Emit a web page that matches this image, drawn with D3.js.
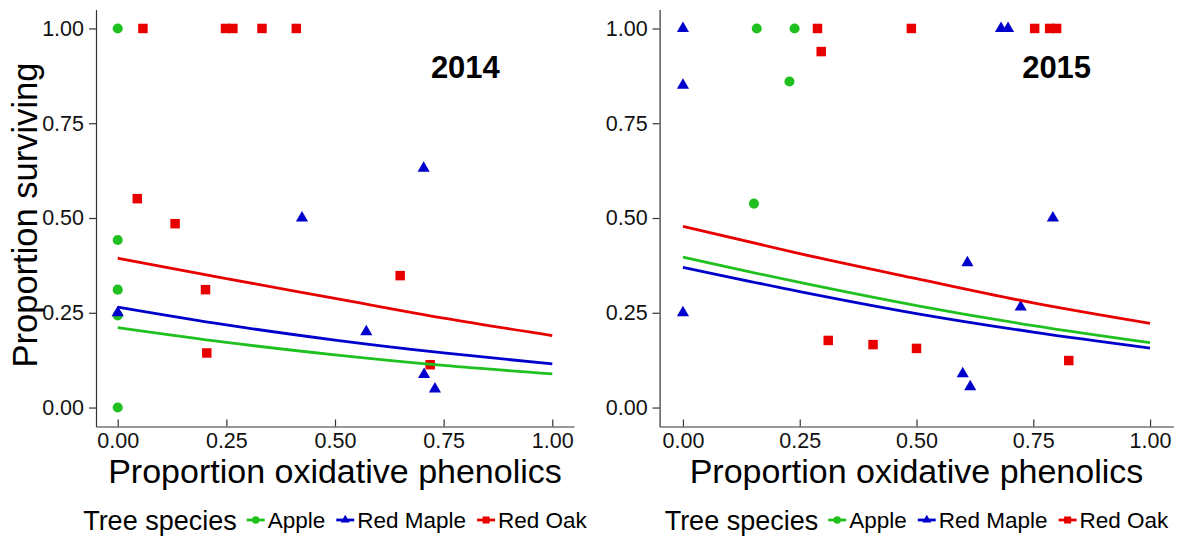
<!DOCTYPE html>
<html><head><meta charset="utf-8">
<script src="https://cdn.jsdelivr.net/npm/d3@7"></script>
<style>
body{margin:0;background:#fff}
svg{display:block}
text{font-family:"Liberation Sans",Arial,Helvetica,sans-serif}
</style>
</head><body><svg id="chart" width="1185" height="541"></svg>
<script>
// ---------- data ----------
const species = ["Apple", "Red Maple", "Red Oak"];
const speciesColors = ["#1fc01f", "#0000cc", "#e80000"];
const years = ["2014", "2015"];
const tickValues = [0, 0.25, 0.5, 0.75, 1];
const tickLabels = ["0.00", "0.25", "0.50", "0.75", "1.00"];
const xTitle = "Proportion oxidative phenolics";
const yTitle = "Proportion surviving";
const legendTitle = "Tree species";

// 2014 observations
const apple2014X = [0, 0, 0, 0, 0];
const apple2014Y = [1.0, 0.442, 0.311, 0.243, 0.0];
const maple2014X = [0, 0.424, 0.572, 0.704, 0.705, 0.730];
const maple2014Y = [0.25, 0.50, 0.20, 0.631, 0.087, 0.049];
const oak2014X = [0.058, 0.248, 0.265, 0.332, 0.411, 0.045, 0.132, 0.202, 0.205, 0.650, 0.719];
const oak2014Y = [1.0, 1.0, 1.0, 1.0, 1.0, 0.551, 0.485, 0.311, 0.144, 0.348, 0.113];

// 2015 observations
const apple2015X = [0.158, 0.239, 0.228, 0.152];
const apple2015Y = [1.0, 1.0, 0.860, 0.538];
const maple2015X = [0, 0, 0, 0.681, 0.696, 0.792, 0.609, 0.723, 0.599, 0.615];
const maple2015Y = [1.0, 0.85, 0.25, 1.0, 1.0, 0.50, 0.382, 0.265, 0.089, 0.055];
const oak2015X = [0.288, 0.296, 0.489, 0.753, 0.785, 0.800, 0.311, 0.407, 0.500, 0.826];
const oak2015Y = [1.0, 0.939, 1.0, 1.0, 1.0, 1.0, 0.177, 0.166, 0.156, 0.124];

// fitted curves
const fitX = [0, 0.25, 0.5, 0.75, 1];
const appleFit2014 = [0.211, 0.172, 0.139, 0.111, 0.089];
const mapleFit2014 = [0.265, 0.218, 0.178, 0.144, 0.115];
const oakFit2014 = [0.394, 0.340, 0.288, 0.236, 0.190];
const appleFit2015 = [0.397, 0.330, 0.269, 0.216, 0.171];
const mapleFit2015 = [0.370, 0.306, 0.248, 0.199, 0.157];
const oakFit2015 = [0.478, 0.406, 0.340, 0.276, 0.222];

// year label position (data units)
const labelX = 0.8, labelY = 0.9;

// ---------- build ----------
const svg = d3.select("#chart");
const zip = (xs, ys) => xs.map((v, i) => ({x: v, y: ys[i]}));

const panels = [
  {year: years[0], xr: [96, 574], showYTitle: true,
   pts: [zip(apple2014X, apple2014Y), zip(maple2014X, maple2014Y), zip(oak2014X, oak2014Y)],
   fits: [appleFit2014, mapleFit2014, oakFit2014]},
  {year: years[1], xr: [659.6, 1173.4], showYTitle: false,
   pts: [zip(apple2015X, apple2015Y), zip(maple2015X, maple2015Y), zip(oak2015X, oak2015Y)],
   fits: [appleFit2015, mapleFit2015, oakFit2015]}
];

const symbolTypes = [d3.symbolCircle, d3.symbolTriangle, d3.symbolSquare];
const symbolSizes = [80, 64, 90];
const axisColor = "#333";

panels.forEach(p => {
  const x = d3.scaleLinear().domain([-0.05, 1.05]).range(p.xr);
  const y = d3.scaleLinear().domain([-0.05, 1.05]).range([426.5, 9.5]);
  const g = svg.append("g");

  // y axis
  const ya = g.append("g").attr("transform", `translate(${p.xr[0]},0)`)
    .call(d3.axisLeft(y).tickValues(tickValues).tickFormat((d, i) => tickLabels[i])
      .tickSizeInner(7).tickSizeOuter(0).tickPadding(5));
  // x axis
  const xa = g.append("g").attr("transform", `translate(0,426.5)`)
    .call(d3.axisBottom(x).tickValues(tickValues).tickFormat((d, i) => tickLabels[i])
      .tickSizeInner(-7).tickSizeOuter(0).tickPadding(6));
  [ya, xa].forEach(a => {
    a.select(".domain").attr("stroke", axisColor).attr("stroke-width", 1.2);
    a.selectAll(".tick line").attr("stroke", axisColor).attr("stroke-width", 1.2);
    a.selectAll(".tick text").attr("fill", "#111").style("font-size", "21.5px");
  });

  // points
  p.pts.forEach((arr, si) => {
    g.append("g").selectAll("path").data(arr).join("path")
      .attr("transform", d => `translate(${x(d.x)},${y(d.y)})`)
      .attr("d", d3.symbol().type(symbolTypes[si]).size(symbolSizes[si]))
      .attr("fill", speciesColors[si]);
  });

  // fitted lines
  const line = d3.line().x(d => x(d.x)).y(d => y(d.y)).curve(d3.curveMonotoneX);
  p.fits.forEach((f, si) => {
    g.append("path").datum(zip(fitX, f)).attr("d", line)
      .attr("fill", "none").attr("stroke", speciesColors[si]).attr("stroke-width", 2.8);
  });

  // year label
  g.append("text").attr("x", x(labelX)).attr("y", y(labelY)).attr("dy", "0.36em")
    .attr("text-anchor", "middle").style("font-size", "31px").style("font-weight", "bold")
    .attr("fill", "#000").text(p.year);

  const cx = (p.xr[0] + p.xr[1]) / 2;
  // x title
  g.append("text").attr("x", cx).attr("y", 483).attr("text-anchor", "middle")
    .style("font-size", "34px").attr("fill", "#000").text(xTitle);

  // y title
  if (p.showYTitle) {
    g.append("text").attr("transform", "translate(37,215) rotate(-90)")
      .attr("text-anchor", "middle").style("font-size", "34.5px").attr("fill", "#000").text(yTitle);
  }

  // legend
  const lg = g.append("g").attr("transform", "translate(0,520)");
  let cur = 0;
  const t = lg.append("text").attr("x", cur).attr("dy", "0.36em")
    .style("font-size", "27px").attr("fill", "#000").text(legendTitle);
  cur += t.node().getComputedTextLength() + 10;
  species.forEach((s, si) => {
    const k = lg.append("g").attr("transform", `translate(${cur},0)`);
    k.append("line").attr("x1", 0).attr("x2", 18).attr("y1", 0).attr("y2", 0)
      .attr("stroke", speciesColors[si]).attr("stroke-width", 2.8);
    k.append("path").attr("transform", "translate(9,0)")
      .attr("d", d3.symbol().type(symbolTypes[si]).size(symbolSizes[si] * 0.55))
      .attr("fill", speciesColors[si]);
    cur += 21;
    const lt = lg.append("text").attr("x", cur).attr("dy", "0.36em")
      .style("font-size", "22.5px").attr("fill", "#000").text(s);
    cur += lt.node().getComputedTextLength() + 11;
  });
  const total = cur - 11;
  lg.attr("transform", `translate(${cx - total / 2},520)`);
});
</script>
</body></html>
